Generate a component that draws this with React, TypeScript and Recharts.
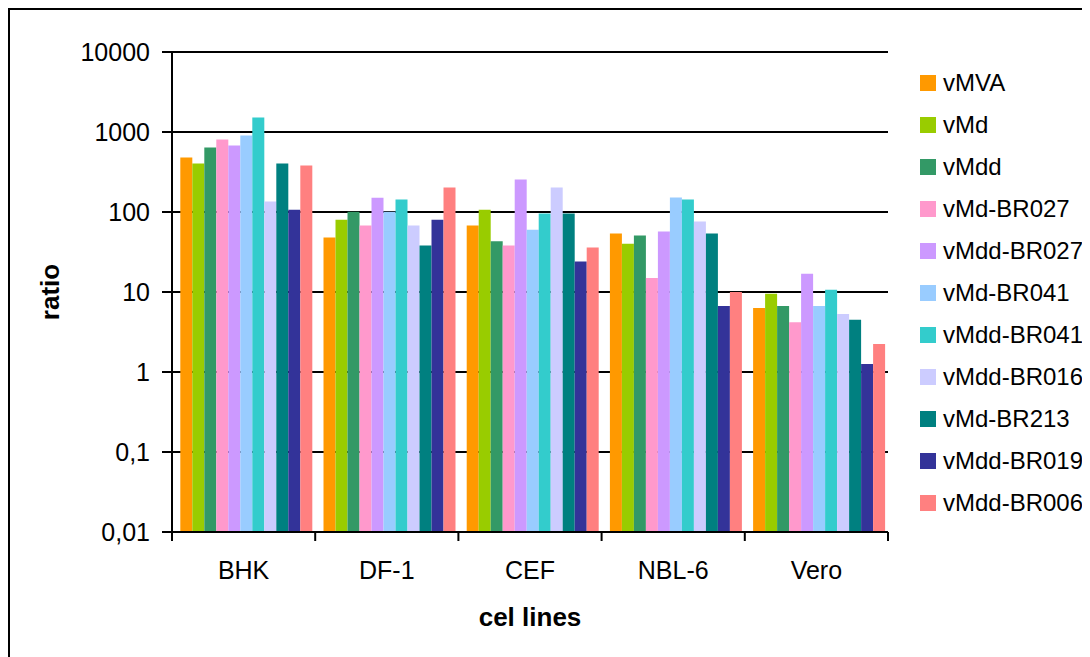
import React from 'react';
import { BarChart, Bar, XAxis, YAxis, CartesianGrid, Legend } from 'recharts';

const categories = ['BHK', 'DF-1', 'CEF', 'NBL-6', 'Vero'];

const seriesNames = [
  'vMVA', 'vMd', 'vMdd', 'vMd-BR027', 'vMdd-BR027', 'vMd-BR041',
  'vMdd-BR041', 'vMdd-BR016', 'vMd-BR213', 'vMdd-BR019', 'vMdd-BR006',
];

const seriesColors = [
  '#FF9900', '#99CC00', '#339966', '#FF99CC', '#CC99FF', '#99CCFF',
  '#33CCCC', '#CCCCFF', '#008080', '#333399', '#FF8080',
];

// values per series, in category order: BHK, DF-1, CEF, NBL-6, Vero
const vMVA = [480, 48, 68, 54, 6.3];
const vMd = [405, 80, 107, 40, 9.5];
const vMdd = [640, 101, 43, 51, 6.7];
const vMdBR027 = [807, 68, 38, 15, 4.2];
const vMddBR027 = [680, 151, 255, 57, 16.9];
const vMdBR041 = [906, 101, 60, 152, 6.7];
const vMddBR041 = [1520, 143, 96, 143, 10.7];
const vMddBR016 = [135, 68, 202, 76, 5.3];
const vMdBR213 = [405, 38, 96, 54, 4.5];
const vMddBR019 = [107, 80, 24, 6.7, 1.26];
const vMddBR006 = [380, 202, 36, 10, 2.24];

const seriesValues = [
  vMVA, vMd, vMdd, vMdBR027, vMddBR027, vMdBR041,
  vMddBR041, vMddBR016, vMdBR213, vMddBR019, vMddBR006,
];

const yTicks = [0.01, 0.1, 1, 10, 100, 1000, 10000];

const data = categories.map((cat, i) => {
  const row: Record<string, any> = { category: cat };
  seriesNames.forEach((name, s) => {
    row[name] = seriesValues[s][i];
  });
  return row;
});

const FONT = '"Liberation Sans", Arial, Helvetica, sans-serif';

const formatY = (v: number) => String(v).replace('.', ',');

const CategoryTick = (props: any) => {
  const { x, y, payload } = props;
  const half = payload && payload.offset ? payload.offset : 0;
  const isLast = payload && payload.value === categories[categories.length - 1];
  return (
    <g>
      <line x1={x - half} x2={x - half} y1={y} y2={y + 9} stroke="#000" strokeWidth={2} />
      {isLast && <line x1={x + half} x2={x + half} y1={y} y2={y + 9} stroke="#000" strokeWidth={2} />}
      <text x={x} y={y + 47} textAnchor="middle" fontFamily={FONT} fontSize={25} fill="#000">
        {payload.value}
      </text>
    </g>
  );
};

const renderLegend = () => (
  <div style={{ fontFamily: FONT, fontSize: 24, color: '#000' }}>
    {seriesNames.map((name, i) => (
      <div key={name} style={{ display: 'flex', alignItems: 'center', height: 42 }}>
        <div style={{ width: 16, height: 16, background: seriesColors[i], marginLeft: 10, marginRight: 7 }} />
        <span style={{ lineHeight: '24px', whiteSpace: 'nowrap' }}>{name}</span>
      </div>
    ))}
  </div>
);

export default function App() {
  return (
    <div
      style={{
        position: 'relative',
        width: 1082,
        height: 649,
        borderTop: '2px solid #000',
        borderLeft: '2px solid #000',
        boxSizing: 'border-box',
        background: '#fff',
        overflow: 'hidden',
      }}
    >
      <BarChart
        width={1080}
        height={647}
        data={data}
        margin={{ top: 42, right: 202, bottom: 85, left: 102 }}
        barCategoryGap="5.8%"
        barGap={0}
      >
        <CartesianGrid vertical={false} stroke="#000" strokeWidth={2} />
        <XAxis
          dataKey="category"
          height={40}
          axisLine={{ stroke: '#000', strokeWidth: 2 }}
          tickLine={false}
          tickSize={0}
          tickMargin={0}
          interval={0}
          tick={<CategoryTick />}
          label={{
            content: (p: any) => {
              const vb = p.viewBox || { x: 0, y: 0, width: 0 };
              return (
                <text
                  x={vb.x + vb.width / 2}
                  y={vb.y + 94}
                  textAnchor="middle"
                  fontFamily={FONT}
                  fontSize={26}
                  fontWeight="bold"
                  fill="#000"
                >
                  cel lines
                </text>
              );
            },
          }}
        />
        <YAxis
          scale="log"
          domain={[0.01, 10000]}
          ticks={yTicks}
          allowDataOverflow
          width={60}
          axisLine={{ stroke: '#000', strokeWidth: 2 }}
          tickLine={{ stroke: '#000', strokeWidth: 2 }}
          tickSize={10}
          tickMargin={12}
          tickFormatter={formatY}
          tick={{ fontFamily: FONT, fontSize: 25, fill: '#000' }}
          interval={0}
          label={{
            content: (p: any) => {
              const vb = p.viewBox || { x: 0, y: 0, height: 0 };
              const cx = vb.x - 62;
              const cy = vb.y + vb.height / 2;
              return (
                <text
                  x={cx}
                  y={cy}
                  transform={`rotate(-90 ${cx} ${cy})`}
                  textAnchor="middle"
                  dominantBaseline="central"
                  fontFamily={FONT}
                  fontSize={26}
                  fontWeight="bold"
                  fill="#000"
                >
                  ratio
                </text>
              );
            },
          }}
        />
        <Legend
          layout="vertical"
          align="center"
          verticalAlign="middle"
          wrapperStyle={{ left: 900, top: 52, width: 180 }}
          content={renderLegend}
        />
        {seriesNames.map((name, s) => (
          <Bar key={name} dataKey={name} name={name} fill={seriesColors[s]} isAnimationActive={false} />
        ))}
      </BarChart>
    </div>
  );
}
